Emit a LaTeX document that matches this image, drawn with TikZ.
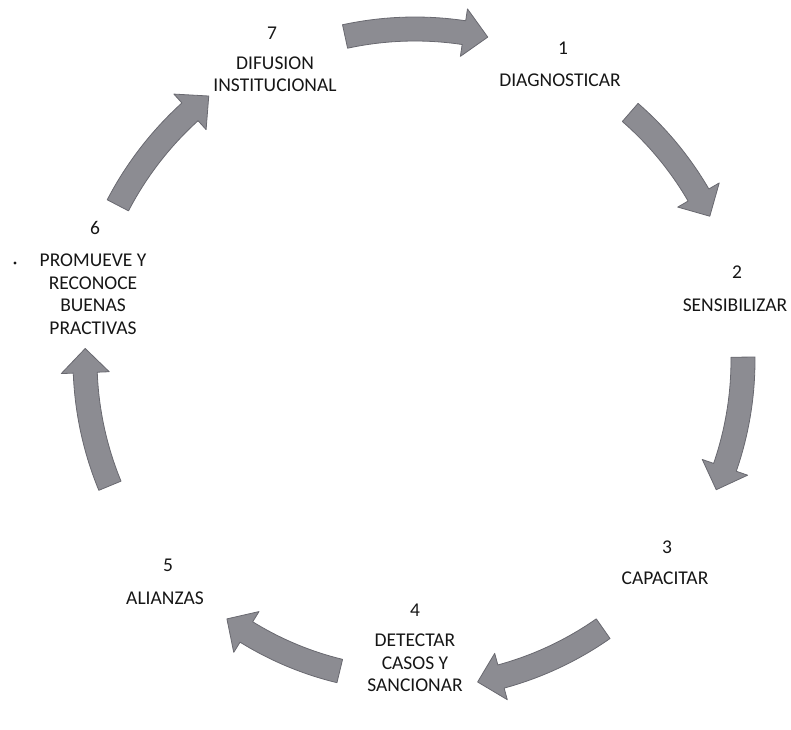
\documentclass[tikz,border=0pt]{standalone}
\usepackage{fontspec}
\setmainfont{Carlito}
\usetikzlibrary{calc}
\definecolor{arrowgray}{RGB}{140,140,146}
\definecolor{arrowedge}{RGB}{105,105,112}
\definecolor{inkblack}{RGB}{22,22,22}
\tikzset{
  lbl/.style={font=\fontsize{19.5}{22.5}\selectfont, text=inkblack, align=center, inner sep=0pt},
  blockarrow/.style={fill=arrowgray, draw=arrowedge, line width=0.8pt, line join=round}
}
% #1 start angle, #2 end angle (clockwise: #2 < #1), #3 radius
\newcommand\cyclearrow[3]{%
  \pgfmathsetmacro\hb{#2+4.2}%
  \pgfmathsetmacro\ro{#3+12}%
  \pgfmathsetmacro\ri{#3-12}%
  \pgfmathsetmacro\rho{#3+24}%
  \pgfmathsetmacro\rhi{#3-24}%
  \draw[blockarrow] ($(C)+(#1:\ro)$) arc[start angle=#1, end angle=\hb, radius=\ro]
    -- ($(C)+(\hb:\rho)$) -- ($(C)+(#2:#3)$) -- ($(C)+(\hb:\rhi)$)
    -- ($(C)+(\hb:\ri)$) arc[start angle=\hb, end angle=#1, radius=\ri] -- cycle;
}
\begin{document}
\begin{tikzpicture}[x=1pt,y=1pt]
\useasboundingbox (0,0) rectangle (791,729);
\coordinate (C) at (415,369);

\cyclearrow{102.2}{77.3}{331}
\cyclearrow{49}{26}{328}
\cyclearrow{0.5}{-23.3}{328}
\cyclearrow{-55}{-79}{328}
\cyclearrow{-103.6}{-126}{320}
\cyclearrow{202.4}{178}{330}
\cyclearrow{152.5}{128}{335}

\node[lbl] (n7) at (272,696) {7};
\node[lbl] (t7) at (275,655) {DIFUSION\\INSTITUCIONAL};
\node[lbl] (n1) at (563,681) {1};
\node[lbl] (t1) at (560,649) {DIAGNOSTICAR};
\node[lbl] (n2) at (737,457) {2};
\node[lbl] (t2) at (735,424) {SENSIBILIZAR};
\node[lbl] (n3) at (667,182) {3};
\node[lbl] (t3) at (665,151) {CAPACITAR};
\node[lbl] (n4) at (415,119) {4};
\node[lbl] (t4) at (415,66) {DETECTAR\\CASOS Y\\SANCIONAR};
\node[lbl] (n5) at (168,164) {5};
\node[lbl] (t5) at (165,131) {ALIANZAS};
\node[lbl] (n6) at (95,501) {6};
\node[lbl] (t6) at (93,435) {PROMUEVE Y\\RECONOCE\\BUENAS\\PRACTIVAS};
\fill[inkblack] (15,466) circle (1.6);
\end{tikzpicture}
\end{document}
